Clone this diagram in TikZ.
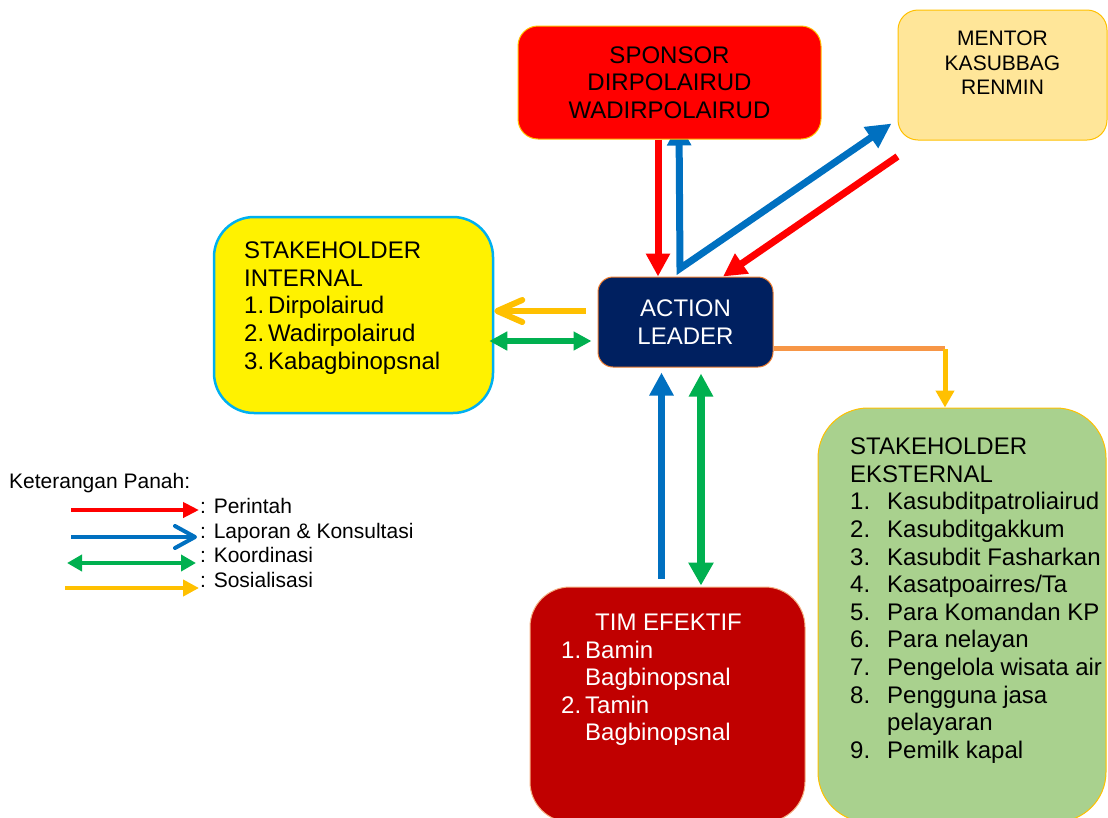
\documentclass[tikz,border=0pt]{standalone}
\usepackage{fontspec}
\setmainfont{Liberation Sans}
\usetikzlibrary{arrows.meta,backgrounds}
\definecolor{cred}{HTML}{FF0000}
\definecolor{cblue}{HTML}{0070C0}
\definecolor{cgreen}{HTML}{00B050}
\definecolor{cyellow}{HTML}{FFC000}
\definecolor{corange}{HTML}{F79646}
\definecolor{mentorfill}{HTML}{FFE699}
\definecolor{leaderfill}{HTML}{002060}
\definecolor{leaderline}{HTML}{ED7D31}
\definecolor{timfill}{HTML}{C00000}
\definecolor{timline}{HTML}{F4B183}
\definecolor{ekstfill}{HTML}{A9D18E}
\definecolor{intline}{HTML}{00B0F0}

\begin{document}
\begin{tikzpicture}[
  x=1pt, y=-1pt,
  bigtext/.style={font=\fontsize{24}{27.6}\selectfont, inner sep=0pt},
  smalltext/.style={font=\fontsize{21}{24.4}\selectfont, inner sep=0pt},
  panel/.style={draw, line width=1pt, inner sep=0pt},
  perintah/.style={draw=cred, line width=7pt, -{Triangle[length=23pt,width=23pt]}},
  laporan/.style={draw=cblue, line width=7.5pt, -{Triangle[length=23pt,width=23pt]}},
  koordinasi/.style={draw=cgreen, line width=5.5pt,
    {Triangle[length=18pt,width=18pt]}-{Triangle[length=18pt,width=18pt]}},
  sosialisasi/.style={draw=cyellow, line width=6pt},
  legline/.style={line width=4pt}
]
  \useasboundingbox (0,0) rectangle (1108,817);

  % boxes
  \node[panel, bigtext, fill=cred, draw=cyellow, rounded corners=20pt,
    minimum width=303pt, minimum height=113pt, align=center]
    (sponsor) at (669.5,82.5) {SPONSOR\\DIRPOLAIRUD\\WADIRPOLAIRUD};
  \node[panel, fill=mentorfill, draw=cyellow, rounded corners=20pt,
    minimum width=209pt, minimum height=130pt] (mentor) at (1002.5,75) {};
  \node[smalltext, anchor=north, align=center] (mentortxt) at (1002.5,31)
    {MENTOR\\KASUBBAG\\RENMIN};

  \node[panel, fill=yellow, draw=intline, line width=2.5pt, rounded corners=40pt,
    minimum width=279pt, minimum height=196pt] (internal) at (353.5,315) {};
  \node[bigtext, anchor=north west, align=left] (internaltxt) at (244,241.8)
    {STAKEHOLDER\\INTERNAL\\
     \makebox[24pt][l]{1.}Dirpolairud\\
     \makebox[24pt][l]{2.}Wadirpolairud\\
     \makebox[24pt][l]{3.}Kabagbinopsnal};

  \node[panel, bigtext, fill=leaderfill, draw=leaderline, text=white,
    rounded corners=15pt, minimum width=175pt, minimum height=90pt, align=center]
    (leader) at (685.5,322) {ACTION\\LEADER};

  \node[panel, fill=ekstfill, draw=cyellow, rounded corners=50pt,
    minimum width=288pt, minimum height=414pt] (ekst) at (962,615) {};
  \node[bigtext, anchor=north west, align=left] (eksttxt) at (850,437.8)
    {STAKEHOLDER\\EKSTERNAL\\
     \makebox[37pt][l]{1.}Kasubditpatroliairud\\
     \makebox[37pt][l]{2.}Kasubditgakkum\\
     \makebox[37pt][l]{3.}Kasubdit Fasharkan\\
     \makebox[37pt][l]{4.}Kasatpoairres/Ta\\
     \makebox[37pt][l]{5.}Para Komandan KP\\
     \makebox[37pt][l]{6.}Para nelayan\\
     \makebox[37pt][l]{7.}Pengelola wisata air\\
     \makebox[37pt][l]{8.}Pengguna jasa\\
     \makebox[37pt][l]{}pelayaran\\
     \makebox[37pt][l]{9.}Pemilk kapal};

  \node[panel, fill=timfill, draw=timline, rounded corners=40pt,
    minimum width=275pt, minimum height=235pt] (tim) at (667.5,704.5) {};
  \node[bigtext, anchor=north west, align=left, text=white] (timtxt) at (561,613.8)
    {\hspace*{34pt}TIM EFEKTIF\\
     \makebox[24pt][l]{1.}Bamin\\
     \makebox[24pt][l]{}Bagbinopsnal\\
     \makebox[24pt][l]{2.}Tamin\\
     \makebox[24pt][l]{}Bagbinopsnal};

  % connectors
  \begin{pgfonlayer}{background}
    \coordinate (vtx) at ([xshift=-5.5pt,yshift=8pt]leader.north);
    \draw[laporan, line width=7pt, line join=miter,
      {Triangle[length=23pt,width=23pt]}-{Triangle[length=25pt,width=24pt]}]
      ([xshift=9.5pt,yshift=17pt]sponsor.south) -- (vtx)
      -- ([xshift=-6pt,yshift=17pt]mentor.south west);
  \end{pgfonlayer}
  \draw[perintah] ([xshift=-11.5pt]sponsor.south) -- ([xshift=-27.5pt]leader.north);
  \draw[perintah] ([yshift=-16pt]mentor.south west) -- ([xshift=37.5pt]leader.north);

  \draw[sosialisasi, -{Straight Barb[length=25pt,width=22pt,round]}]
    ([xshift=-12pt,yshift=11pt]leader.west) -- ([yshift=4pt]internal.east);
  \draw[koordinasi] ([xshift=-5pt,yshift=-26pt]internal.east)
    -- ([xshift=-6pt,yshift=-19pt]leader.west);

  \coordinate (orA) at ([yshift=-26pt]leader.east);
  \coordinate (orB) at ([xshift=-17pt]ekst.north);
  \draw[corange, line width=5pt] (orA) -- (orB |- orA);
  \draw[sosialisasi, line width=5pt, -{Triangle[length=17pt,width=18pt]}]
    ([yshift=-1pt]orB |- orA) -- (orB);

  \draw[laporan, -{Triangle[length=23pt,width=23pt]}]
    ([xshift=-6pt,yshift=8pt]tim.north) -- ([xshift=-24pt,yshift=-5pt]leader.south);
  \draw[koordinasi, line width=7.5pt,
    {Triangle[length=23pt,width=23pt]}-{Triangle[length=23pt,width=24pt]}]
    ([xshift=15.5pt,yshift=-6pt]leader.south)
    -- ([xshift=33.5pt,yshift=1pt]tim.north);

  % legend
  \node[smalltext, anchor=base west] (legtitle) at (9,488) {Keterangan Panah:};
  \node[smalltext, anchor=base west] (legred) at (200,513) {: Perintah};
  \node[smalltext, anchor=base west] (legblue) at (200,538) {: Laporan \& Konsultasi};
  \node[smalltext, anchor=base west] (leggreen) at (200,562) {: Koordinasi};
  \node[smalltext, anchor=base west] (legyellow) at (200,587) {: Sosialisasi};

  \coordinate (l1) at (71,510);
  \coordinate (l2) at (71,537);
  \coordinate (l3) at (67,563);
  \coordinate (l4) at (65,588);
  \draw[legline, cred, -{Triangle[length=16pt,width=15pt]}]
    (l1) -- ([xshift=-1pt,yshift=3pt]legred.base west);
  \draw[legline, cblue, -{Straight Barb[length=20pt,width=22pt,round]}]
    (l2) -- ([xshift=-3pt,yshift=1pt]legblue.base west);
  \draw[legline, cgreen, {Triangle[length=15pt,width=16pt]}-{Triangle[length=15pt,width=16pt]}]
    (l3) -- ([xshift=-4pt,yshift=-1pt]leggreen.base west);
  \draw[legline, cyellow, -{Triangle[length=16pt,width=16pt]}]
    (l4) -- ([xshift=-1pt,yshift=-1pt]legyellow.base west);
\end{tikzpicture}
\end{document}
